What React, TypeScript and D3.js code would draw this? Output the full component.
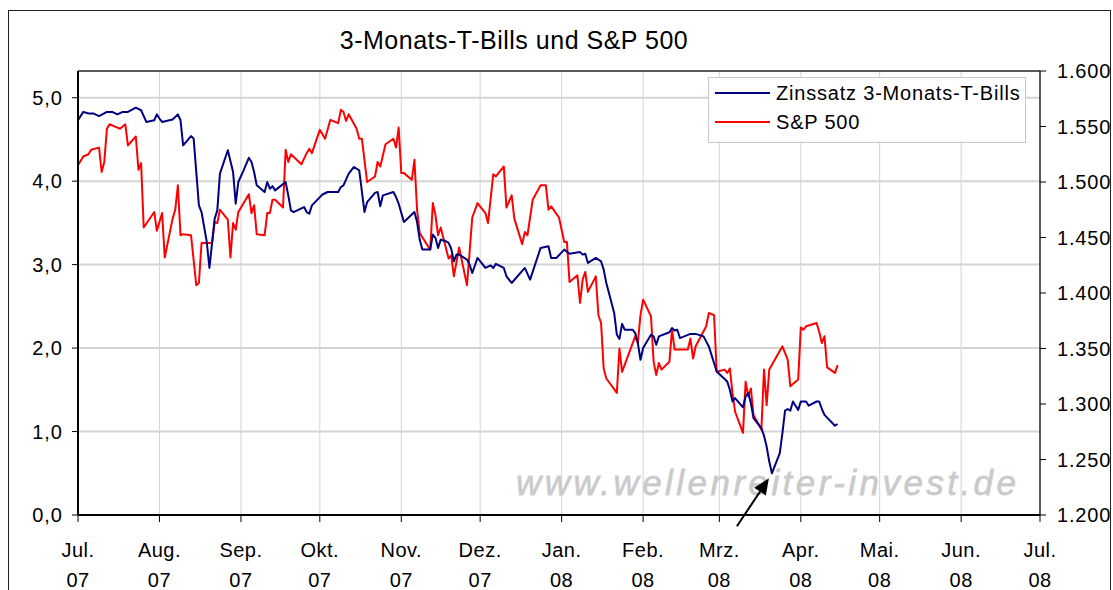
import * as d3 from "d3";

// 3-Monats-T-Bills (Zinssatz, linke Achse)
const billDates = [
  "2007-07-01", "2007-07-03", "2007-07-05", "2007-07-07", "2007-07-09", "2007-07-12", "2007-07-14", "2007-07-16",
  "2007-07-18", "2007-07-20", "2007-07-23", "2007-07-25", "2007-07-27", "2007-07-30", "2007-07-31", "2007-08-01",
  "2007-08-02", "2007-08-06", "2007-08-08", "2007-08-09", "2007-08-10", "2007-08-13", "2007-08-14", "2007-08-16",
  "2007-08-17", "2007-08-19", "2007-08-20", "2007-08-22", "2007-08-23", "2007-08-24", "2007-08-27", "2007-08-29",
  "2007-08-30", "2007-08-31", "2007-09-02", "2007-09-04", "2007-09-05", "2007-09-06", "2007-09-07", "2007-09-10",
  "2007-09-11", "2007-09-12", "2007-09-13", "2007-09-14", "2007-09-18", "2007-09-19", "2007-09-20", "2007-09-21",
  "2007-09-25", "2007-09-26", "2007-09-27", "2007-09-28", "2007-10-02", "2007-10-04", "2007-10-08", "2007-10-09",
  "2007-10-10", "2007-10-12", "2007-10-14", "2007-10-16", "2007-10-18", "2007-10-19", "2007-10-22", "2007-10-23",
  "2007-10-24", "2007-10-25", "2007-10-29", "2007-10-30", "2007-10-31", "2007-11-02", "2007-11-06", "2007-11-07",
  "2007-11-08", "2007-11-09", "2007-11-12", "2007-11-13", "2007-11-14", "2007-11-15", "2007-11-16", "2007-11-18",
  "2007-11-19", "2007-11-20", "2007-11-21", "2007-11-22", "2007-11-23", "2007-11-26", "2007-11-27", "2007-11-28",
  "2007-11-30", "2007-12-03", "2007-12-05", "2007-12-06", "2007-12-07", "2007-12-10", "2007-12-11", "2007-12-13",
  "2007-12-18", "2007-12-20", "2007-12-24", "2007-12-27", "2007-12-28", "2007-12-30", "2008-01-02", "2008-01-04",
  "2008-01-08", "2008-01-09", "2008-01-10", "2008-01-11", "2008-01-14", "2008-01-16", "2008-01-17", "2008-01-18",
  "2008-01-21", "2008-01-22", "2008-01-23", "2008-01-24", "2008-01-25", "2008-01-28", "2008-01-29", "2008-01-30",
  "2008-01-31", "2008-02-01", "2008-02-04", "2008-02-05", "2008-02-06", "2008-02-07", "2008-02-11", "2008-02-12",
  "2008-02-13", "2008-02-14", "2008-02-15", "2008-02-19", "2008-02-21", "2008-02-24", "2008-02-25", "2008-02-26",
  "2008-02-29", "2008-03-02", "2008-03-04", "2008-03-05", "2008-03-06", "2008-03-07", "2008-03-10", "2008-03-11",
  "2008-03-12", "2008-03-13", "2008-03-14", "2008-03-17", "2008-03-18", "2008-03-19", "2008-03-20", "2008-03-21",
  "2008-03-24", "2008-03-25", "2008-03-26", "2008-03-27", "2008-03-28", "2008-03-29", "2008-03-30", "2008-03-31",
  "2008-04-01", "2008-04-03", "2008-04-04", "2008-04-07", "2008-04-08", "2008-04-09", "2008-04-10", "2008-04-14",
  "2008-04-15",
];
const billValues = [
  4.73, 4.83, 4.81, 4.81, 4.78, 4.83, 4.83, 4.8,
  4.83, 4.83, 4.88, 4.85, 4.71, 4.73, 4.8, 4.75,
  4.71, 4.74, 4.8, 4.73, 4.43, 4.54, 4.51, 3.71,
  3.63, 3.27, 2.96, 3.55, 3.65, 4.09, 4.37, 4.11,
  3.73, 3.99, 4.13, 4.28, 4.23, 4.11, 3.95, 3.87,
  3.99, 3.91, 3.94, 3.89, 3.99, 3.83, 3.65, 3.63,
  3.69, 3.63, 3.61, 3.71, 3.84, 3.87, 3.87, 3.93,
  3.95, 4.09, 4.17, 4.13, 3.63, 3.75, 3.86, 3.87,
  3.7, 3.83, 3.87, 3.81, 3.73, 3.51, 3.63, 3.51,
  3.3, 3.18, 3.18, 3.36, 3.32, 3.2, 3.3, 3.28,
  3.26, 3.19, 3.04, 3.12, 3.12, 3.06, 3.0, 2.9,
  3.08, 2.96, 2.99, 2.96, 3.01, 2.96, 2.86, 2.78,
  2.96, 2.82, 3.2, 3.22, 3.08, 3.08, 3.18, 3.13,
  3.15, 3.12, 3.13, 3.02, 3.08, 3.04, 2.94, 2.78,
  2.42, 2.16, 2.11, 2.29, 2.22, 2.22, 2.18, 2.06,
  1.86, 2.0, 2.16, 2.14, 2.04, 2.14, 2.19, 2.24,
  2.21, 2.22, 2.12, 2.17, 2.17, 2.14, 2.08, 2.02,
  1.72, 1.66, 1.6, 1.5, 1.36, 1.4, 1.29, 1.42,
  1.46, 1.34, 1.16, 1.04, 0.95, 0.82, 0.64, 0.5,
  0.74, 0.98, 1.25, 1.27, 1.25, 1.36, 1.31, 1.26,
  1.36, 1.36, 1.31, 1.36, 1.36, 1.27, 1.2, 1.07,
  1.09,
];

// S&P 500 (rechte Achse)
const spxDates = [
  "2007-07-01", "2007-07-03", "2007-07-05", "2007-07-06", "2007-07-09", "2007-07-10", "2007-07-11", "2007-07-12",
  "2007-07-13", "2007-07-16", "2007-07-17", "2007-07-19", "2007-07-20", "2007-07-23", "2007-07-24", "2007-07-25",
  "2007-07-26", "2007-07-30", "2007-07-31", "2007-08-02", "2007-08-03", "2007-08-06", "2007-08-07", "2007-08-08",
  "2007-08-09", "2007-08-10", "2007-08-13", "2007-08-15", "2007-08-16", "2007-08-17", "2007-08-21", "2007-08-22",
  "2007-08-23", "2007-08-24", "2007-08-27", "2007-08-28", "2007-08-29", "2007-08-30", "2007-08-31", "2007-09-04",
  "2007-09-05", "2007-09-06", "2007-09-07", "2007-09-10", "2007-09-11", "2007-09-12", "2007-09-13", "2007-09-14",
  "2007-09-17", "2007-09-18", "2007-09-19", "2007-09-20", "2007-09-24", "2007-09-26", "2007-09-27", "2007-09-28",
  "2007-10-01", "2007-10-03", "2007-10-05", "2007-10-08", "2007-10-09", "2007-10-10", "2007-10-11", "2007-10-12",
  "2007-10-15", "2007-10-16", "2007-10-17", "2007-10-19", "2007-10-22", "2007-10-23", "2007-10-24", "2007-10-26",
  "2007-10-29", "2007-10-30", "2007-10-31", "2007-11-01", "2007-11-02", "2007-11-05", "2007-11-06", "2007-11-07",
  "2007-11-08", "2007-11-12", "2007-11-13", "2007-11-14", "2007-11-15", "2007-11-16", "2007-11-19", "2007-11-20",
  "2007-11-21", "2007-11-23", "2007-11-26", "2007-11-28", "2007-11-30", "2007-12-03", "2007-12-04", "2007-12-05",
  "2007-12-06", "2007-12-07", "2007-12-10", "2007-12-11", "2007-12-13", "2007-12-14", "2007-12-17", "2007-12-18",
  "2007-12-19", "2007-12-21", "2007-12-24", "2007-12-26", "2007-12-27", "2007-12-28", "2007-12-31", "2008-01-02",
  "2008-01-03", "2008-01-04", "2008-01-07", "2008-01-08", "2008-01-09", "2008-01-10", "2008-01-11", "2008-01-14",
  "2008-01-15", "2008-01-16", "2008-01-17", "2008-01-18", "2008-01-22", "2008-01-23", "2008-01-24", "2008-01-29",
  "2008-01-30", "2008-01-31", "2008-02-01", "2008-02-04", "2008-02-05", "2008-02-06", "2008-02-07", "2008-02-08",
  "2008-02-11", "2008-02-12", "2008-02-13", "2008-02-18", "2008-02-19", "2008-02-20", "2008-02-21", "2008-02-25",
  "2008-02-26", "2008-02-28", "2008-02-29", "2008-03-03", "2008-03-04", "2008-03-05", "2008-03-06", "2008-03-07",
  "2008-03-10", "2008-03-11", "2008-03-12", "2008-03-13", "2008-03-14", "2008-03-17", "2008-03-18", "2008-03-19",
  "2008-03-20", "2008-03-25", "2008-03-27", "2008-03-28", "2008-03-31", "2008-04-01", "2008-04-02", "2008-04-03",
  "2008-04-07", "2008-04-08", "2008-04-09", "2008-04-10", "2008-04-11", "2008-04-14", "2008-04-15",
];
const spxValues = [
  1515, 1523, 1525, 1529, 1531, 1509, 1518, 1548,
  1552, 1549, 1548, 1552, 1533, 1541, 1511, 1517,
  1459, 1473, 1456, 1472, 1432, 1467, 1475, 1497,
  1452, 1453, 1452, 1407, 1409, 1445, 1445, 1464,
  1463, 1475, 1466, 1432, 1463, 1457, 1473, 1489,
  1472, 1479, 1453, 1452, 1472, 1472, 1484, 1484,
  1477, 1529, 1518, 1525, 1516, 1526, 1530, 1526,
  1547, 1539, 1556, 1553, 1565, 1563, 1555, 1561,
  1548, 1539, 1539, 1500, 1505, 1518, 1514, 1534,
  1539, 1531, 1549, 1508, 1508, 1502, 1520, 1475,
  1454, 1439, 1481, 1470, 1452, 1459, 1431, 1434,
  1415, 1441, 1407, 1468, 1481, 1472, 1463, 1485,
  1507, 1505, 1514, 1477, 1488, 1467, 1444, 1455,
  1452, 1484, 1497, 1497, 1475, 1478, 1468, 1446,
  1446, 1410, 1416, 1391, 1412, 1419, 1401, 1415,
  1380, 1373, 1332, 1323, 1310, 1350, 1329, 1361,
  1355, 1380, 1394, 1379, 1338, 1326, 1337, 1331,
  1338, 1367, 1349, 1349, 1359, 1341, 1352, 1370,
  1382, 1380, 1329, 1331, 1328, 1332, 1310, 1293,
  1274, 1320, 1307, 1314, 1290, 1277, 1331, 1299,
  1331, 1352, 1340, 1316, 1322, 1369, 1367, 1370,
  1373, 1365, 1355, 1361, 1333, 1328, 1335,
];

const leftTicks = [0, 1, 2, 3, 4, 5];
const rightTicks = [1200, 1250, 1300, 1350, 1400, 1450, 1500, 1550, 1600];
const monthLabels = ["Jul.", "Aug.", "Sep.", "Okt.", "Nov.", "Dez.", "Jan.", "Feb.", "Mrz.", "Apr.", "Mai.", "Jun.", "Jul."];
const seriesNames = ["Zinssatz 3-Monats-T-Bills", "S&P 500"];
const title = "3-Monats-T-Bills und S&P 500";
const watermark = "www.wellenreiter-invest.de";

const W = 1113;
const H = 590;
const plot = { left: 78, right: 1040, top: 71, bottom: 515 };
const FONT = "'Liberation Sans', Arial, sans-serif";
const BLUE = "#000080";
const RED = "#ff0000";

const de = d3.formatLocale({ decimal: ",", thousands: ".", grouping: [3], currency: ["", " €"] });
const fmtLeft = de.format(".1f");
const fmtRight = de.format(",.0f");
const parse = d3.timeParse("%Y-%m-%d");

export default function App() {
  const x = d3
    .scaleTime()
    .domain([new Date(2007, 6, 1), new Date(2008, 6, 1)])
    .range([plot.left, plot.right]);
  const yL = d3.scaleLinear().domain([0, 5.32]).range([plot.bottom, plot.top]);
  const yR = d3.scaleLinear().domain([1200, 1600]).range([plot.bottom, plot.top]);

  const bills = billDates.map((d, i) => ({ date: parse(d), value: billValues[i] }));
  const spx = spxDates.map((d, i) => ({ date: parse(d), value: spxValues[i] }));

  const billLine = d3.line().x((d) => x(d.date)).y((d) => yL(d.value));
  const spxLine = d3.line().x((d) => x(d.date)).y((d) => yR(d.value));

  const months = x.ticks(d3.timeMonth.every(1));
  const fmtYear = d3.timeFormat("%y");

  // arrow pointing at the low of the T-Bill rate
  const low = bills.reduce((a, b) => (b.value < a.value ? b : a));
  const tip = [x(low.date) - 3, yL(low.value) + 5];
  const tail = [tip[0] - 32, tip[1] + 48];
  const ang = Math.atan2(tip[1] - tail[1], tip[0] - tail[0]);
  const headLen = 16;
  const headW = 7;
  const hb = [tip[0] - headLen * Math.cos(ang), tip[1] - headLen * Math.sin(ang)];
  const head = [
    tip,
    [hb[0] + headW * Math.sin(ang), hb[1] - headW * Math.cos(ang)],
    [hb[0] - headW * Math.sin(ang), hb[1] + headW * Math.cos(ang)],
  ];

  return (
    <svg
      width={W}
      height={H}
      style={{ position: "absolute", left: 0, top: 0, background: "#fff" }}
      fontFamily={FONT}
    >
      <rect x={8.5} y={10.5} width={1102} height={620} fill="#fff" stroke="#222" />

      <text x={514} y={49} textAnchor="middle" fontSize={25} letterSpacing={0.5}>
        {title}
      </text>

      {/* gridlines */}
      {months.slice(1, -1).map((m, i) => (
        <line key={"v" + i} x1={x(m)} x2={x(m)} y1={plot.top} y2={plot.bottom} stroke="#d4d4d4" strokeWidth={1} />
      ))}
      {leftTicks.slice(1).map((t) => (
        <line key={"h" + t} x1={plot.left} x2={plot.right} y1={yL(t)} y2={yL(t)} stroke="#d4d4d4" strokeWidth={2} />
      ))}

      {/* watermark */}
      <text
        x={516}
        y={495}
        fontSize={35}
        fontStyle="italic"
        fill="#c8c8c8"
        stroke="#d0d0d0"
        strokeWidth={0.8}
        textLength={500}
        lengthAdjust="spacing"
      >
        {watermark}
      </text>

      {/* plot frame */}
      <line x1={plot.left} x2={plot.right} y1={plot.top} y2={plot.top} stroke="#222" strokeWidth={1.5} />
      <line x1={plot.right} x2={plot.right} y1={plot.top} y2={plot.bottom} stroke="#222" strokeWidth={1.5} />

      {/* series */}
      <path d={spxLine(spx)} fill="none" stroke={RED} strokeWidth={2} strokeLinejoin="round" />
      <path d={billLine(bills)} fill="none" stroke={BLUE} strokeWidth={2} strokeLinejoin="round" />

      {/* axes */}
      <line x1={plot.left} x2={plot.left} y1={plot.top} y2={plot.bottom} stroke="#000" strokeWidth={2} />
      <line x1={plot.left} x2={plot.right} y1={plot.bottom} y2={plot.bottom} stroke="#000" strokeWidth={2} />

      {leftTicks.map((t) => (
        <g key={"l" + t}>
          <line x1={plot.left - 6} x2={plot.left} y1={yL(t)} y2={yL(t)} stroke="#000" />
          <text x={63} y={yL(t)} dy="0.36em" textAnchor="end" fontSize={20} letterSpacing={1}>
            {fmtLeft(t)}
          </text>
        </g>
      ))}
      {rightTicks.map((t) => (
        <g key={"r" + t}>
          <line x1={plot.right} x2={plot.right + 6} y1={yR(t)} y2={yR(t)} stroke="#000" />
          <text x={1057} y={yR(t)} dy="0.36em" fontSize={20} letterSpacing={0.8}>
            {fmtRight(t)}
          </text>
        </g>
      ))}
      {months.map((m, i) => (
        <g key={"m" + i}>
          <line x1={x(m)} x2={x(m)} y1={plot.bottom} y2={plot.bottom + 7} stroke="#000" />
          <text x={x(m)} y={557} textAnchor="middle" fontSize={20} letterSpacing={0.5}>
            {monthLabels[i]}
          </text>
          <text x={x(m)} y={587} textAnchor="middle" fontSize={20} letterSpacing={0.5}>
            {fmtYear(m)}
          </text>
        </g>
      ))}

      {/* arrow */}
      <line x1={tail[0]} y1={tail[1]} x2={hb[0]} y2={hb[1]} stroke="#000" strokeWidth={2} />
      <polygon points={head.map((p) => p.join(",")).join(" ")} fill="#000" />

      {/* legend */}
      <rect x={708.5} y={77.5} width={317} height={65} fill="#fff" stroke="#c8c8c8" />
      {seriesNames.map((name, i) => (
        <g key={name}>
          <line x1={715} x2={770} y1={93 + i * 29} y2={93 + i * 29} stroke={i === 0 ? BLUE : RED} strokeWidth={2} />
          <text x={776} y={93 + i * 29} dy="0.36em" fontSize={20} letterSpacing={0.8}>
            {name}
          </text>
        </g>
      ))}
    </svg>
  );
}
